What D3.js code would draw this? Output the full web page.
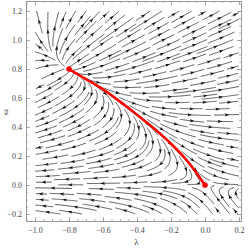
<!DOCTYPE html>
<html><head><meta charset="utf-8">
<script src="https://cdn.jsdelivr.net/npm/d3@7"></script>
<style>body{margin:0;background:#fff}svg{display:block}</style>
</head><body>
<svg id="chart" width="249" height="248"></svg>
<script>
// ---- data ----
const xTicks = [-1.0, -0.8, -0.6, -0.4, -0.2, 0.0, 0.2];
const xTickLabels = ["\u22121.0", "\u22120.8", "\u22120.6", "\u22120.4", "\u22120.2", "0.0", "0.2"];
const yTicks = [-0.2, 0.0, 0.2, 0.4, 0.6, 0.8, 1.0, 1.2];
const yTickLabels = ["\u22120.2", "0.0", "0.2", "0.4", "0.6", "0.8", "1.0", "1.2"];
const xMinorStep = 0.05, yMinorStep = 0.05;
const xLabel = "\u03bb", yLabel = "\u03c9";
// field: dλ = c0 λ + c1 ω + c2 λ² + c3 λω + c4 ω² + c5 λ²(ω−0.8)² ; dω = d0 λ + d1 ω + d2 λ² + d3 λω + d4 ω²
const dLambdaCoef = [0.7, 1.133, 0.16, 1.568, 0.867, -2.5];
const dOmegaCoef  = [0.0, -1.0, 0.0, 0.75, 2.0];
const fieldLambdaRange = [-1.0, 0.2];
const fieldOmegaRange = [-0.2, 1.2];
// highlighted trajectory and fixed points
const redLambda = [-0.8, -0.7, -0.6, -0.5, -0.4, -0.3, -0.2, -0.1, 0.0];
const redOmega  = [0.8, 0.73, 0.66, 0.575, 0.485, 0.39, 0.285, 0.16, 0.0];
const fixedLambda = [-0.8, 0.0];
const fixedOmega  = [0.8, 0.0];

// ---- layout ----
const svg = d3.select("#chart");
const frame = {l: 26, r: 241, t: 1, b: 221};
const x = d3.scaleLinear().domain([-1.0529, 0.2118]).range([frame.l, frame.r]);
const y = d3.scaleLinear().domain([-0.248, 1.269]).range([frame.b, frame.t]);
const frameColor = "#9a9a9a", labelColor = "#444";
const fontFam = "'Liberation Serif','DejaVu Serif',serif";

function minorVals(dom, step){
  const out=[]; const s=Math.ceil(dom[0]/step-1e-9), e=Math.floor(dom[1]/step+1e-9);
  for(let i=s;i<=e;i++){ out.push(+(i*step).toFixed(4)); } return out;
}
const xMinor = minorVals(x.domain(), xMinorStep);
const yMinor = minorVals(y.domain(), yMinorStep);

function styleAxis(g){
  g.selectAll("path.domain").attr("stroke", frameColor).attr("stroke-width", 1);
  g.selectAll(".tick line").attr("stroke", frameColor).attr("stroke-width", 0.8);
  g.selectAll("text").attr("fill", labelColor).attr("font-family", fontFam).attr("font-size", 8);
}
[[d3.axisBottom(x), "translate(0,"+frame.b+")", xMinor],
 [d3.axisTop(x), "translate(0,"+frame.t+")", xMinor],
 [d3.axisLeft(y), "translate("+frame.l+",0)", yMinor],
 [d3.axisRight(y), "translate("+frame.r+",0)", yMinor]].forEach(([ax, tr, vals])=>{
  const g = svg.append("g").attr("transform", tr)
    .call(ax.tickValues(vals).tickSizeInner(-2).tickSizeOuter(0).tickFormat(""));
  styleAxis(g);
});
const gxb = svg.append("g").attr("transform","translate(0,"+frame.b+")")
  .call(d3.axisBottom(x).tickValues(xTicks).tickSizeInner(-4).tickSizeOuter(0).tickPadding(6)
    .tickFormat((d,i)=>xTickLabels[i]));
styleAxis(gxb);
const gxt = svg.append("g").attr("transform","translate(0,"+frame.t+")")
  .call(d3.axisTop(x).tickValues(xTicks).tickSizeInner(-4).tickSizeOuter(0).tickFormat(""));
styleAxis(gxt);
const gyl = svg.append("g").attr("transform","translate("+frame.l+",0)")
  .call(d3.axisLeft(y).tickValues(yTicks).tickSizeInner(-4).tickSizeOuter(0).tickPadding(4)
    .tickFormat((d,i)=>yTickLabels[i]));
styleAxis(gyl);
const gyr = svg.append("g").attr("transform","translate("+frame.r+",0)")
  .call(d3.axisRight(y).tickValues(yTicks).tickSizeInner(-4).tickSizeOuter(0).tickFormat(""));
styleAxis(gyr);

svg.append("text").attr("x", (frame.l+frame.r)/2+3).attr("y", 245)
  .attr("text-anchor","middle").attr("font-family",fontFam).attr("font-size",9)
  .attr("fill",labelColor).text(xLabel);
svg.append("text").attr("transform","translate(8,"+((frame.t+frame.b)/2+1)+") rotate(-90)")
  .attr("text-anchor","middle").attr("font-family",fontFam).attr("font-size",9)
  .attr("fill",labelColor).text(yLabel);

// ---- stream lines ----
const kx = Math.abs(x(1)-x(0)), ky = Math.abs(y(1)-y(0));
function fL(c, l, w){ return c[0]*l + c[1]*w + c[2]*l*l + c[3]*l*w + c[4]*w*w + c[5]*l*l*(w-0.8)*(w-0.8); }
function fW(c, l, w){ return c[0]*l + c[1]*w + c[2]*l*l + c[3]*l*w + c[4]*w*w; }
function field(px, py){
  const l = x.invert(px), w = y.invert(py);
  const u = fL(dLambdaCoef, l, w), v = fW(dOmegaCoef, l, w);
  return [u*kx, -v*ky, Math.hypot(u, v)];
}
const bx0 = x(fieldLambdaRange[0]), bx1 = x(fieldLambdaRange[1]);
const by0 = y(fieldOmegaRange[1]), by1 = y(fieldOmegaRange[0]);
const inside = (p)=> p[0]>=bx0 && p[0]<=bx1 && p[1]>=by0 && p[1]<=by1;
const dsep = 6.0, dtest = 2.9, h = 1.0, maxHalf = 21, minLen = 8;
const cell = dsep;
const grid = new Map();
const key = (i,j)=> i+","+j;
function addPt(p, id){
  const k = key(Math.floor(p[0]/cell), Math.floor(p[1]/cell));
  if(!grid.has(k)) grid.set(k, []);
  grid.get(k).push([p[0], p[1], id]);
}
function isFree(p, d, id){
  const ci = Math.floor(p[0]/cell), cj = Math.floor(p[1]/cell);
  const r = Math.ceil(d/cell);
  for(let i=ci-r;i<=ci+r;i++) for(let j=cj-r;j<=cj+r;j++){
    const arr = grid.get(key(i,j)); if(!arr) continue;
    for(const q of arr){ if(q[2]===id) continue;
      const dx=q[0]-p[0], dy=q[1]-p[1]; if(dx*dx+dy*dy < d*d) return false; }
  }
  return true;
}
const fixedPx = fixedLambda.map((l,i)=>[x(l), y(fixedOmega[i])]);
function nearFixed(p){ return fixedPx.some(f=>Math.hypot(f[0]-p[0], f[1]-p[1])<1.5); }
function step(p, sgn){
  const a = field(p[0], p[1]); const la = Math.hypot(a[0], a[1]);
  if(a[2] < 0.004 || la < 1e-9) return null;
  const k1 = [sgn*a[0]/la, sgn*a[1]/la];
  const b = field(p[0]+0.5*h*k1[0], p[1]+0.5*h*k1[1]); const lb = Math.hypot(b[0], b[1]);
  if(lb < 1e-9) return null;
  const k2 = [sgn*b[0]/lb, sgn*b[1]/lb];
  if(k1[0]*k2[0]+k1[1]*k2[1] < 0.3) return null;
  return [p[0]+h*k2[0], p[1]+h*k2[1]];
}
function integrate(seed, sgn, id){
  const pts = []; let p = seed; let len = 0;
  while(len < maxHalf){
    const q = step(p, sgn); if(!q) break;
    if(!inside(q) || !isFree(q, dtest, id) || nearFixed(q)) break;
    pts.push(q); p = q; len += h;
  }
  return pts;
}
const lines = [];
let nextId = 0;
function trySeed(seed){
  if(!inside(seed) || !isFree(seed, dsep*0.95, -1)) return null;
  const id = nextId++;
  const f = integrate(seed, 1, id), b = integrate(seed, -1, id);
  const pts = b.reverse().concat([seed], f);
  if(pts.length-1 < minLen) return null;
  pts.forEach(p=>addPt(p, id));
  lines.push(pts);
  return pts;
}
const queue = [];
function pushNeighbours(pts){
  for(let i=1;i<pts.length-1;i+=3){
    const dx = pts[i+1][0]-pts[i-1][0], dy = pts[i+1][1]-pts[i-1][1];
    const L = Math.hypot(dx,dy)||1; const nx = -dy/L, ny = dx/L;
    queue.push([pts[i][0]+nx*dsep, pts[i][1]+ny*dsep]);
    queue.push([pts[i][0]-nx*dsep, pts[i][1]-ny*dsep]);
  }
}
function drain(){
  while(queue.length){ const s = queue.shift(); const r = trySeed(s); if(r) pushNeighbours(r); }
}
for(let gy = by0+2; gy <= by1; gy += 3){
  for(let gx = bx0+2; gx <= bx1; gx += 3){
    const r = trySeed([gx, gy]); if(r){ pushNeighbours(r); drain(); }
  }
}

const lineGen = d3.line().x(d=>d[0]).y(d=>d[1]);
const gStream = svg.append("g");
gStream.selectAll("path.sl").data(lines).join("path").attr("class","sl")
  .attr("d", lineGen).attr("fill","none").attr("stroke","#333").attr("stroke-width",0.8);
const arrows = lines.map(pts=>{
  const m = Math.floor(pts.length/2);
  const a = pts[Math.max(0,m-1)], b = pts[Math.min(pts.length-1,m+1)];
  return {p: pts[m], ang: Math.atan2(b[1]-a[1], b[0]-a[0])*180/Math.PI};
});
gStream.selectAll("path.ar").data(arrows).join("path").attr("class","ar")
  .attr("d","M2.4,0 L-2.2,-1.6 L-1.2,0 L-2.2,1.6 Z")
  .attr("transform", d=>"translate("+d.p[0]+","+d.p[1]+") rotate("+d.ang+")")
  .attr("fill","#111");

// ---- highlighted curve ----
const redPts = redLambda.map((l,i)=>[x(l), y(redOmega[i])]);
svg.append("path").attr("d", d3.line().curve(d3.curveCatmullRom)(redPts))
  .attr("fill","none").attr("stroke","#f00").attr("stroke-width",2.6).attr("stroke-linecap","round");
svg.selectAll("circle.fp").data(fixedLambda.map((l,i)=>[l, fixedOmega[i]])).join("circle")
  .attr("class","fp").attr("cx", d=>x(d[0])).attr("cy", d=>y(d[1])).attr("r", 2.8).attr("fill","#f00");
</script>
</body></html>
